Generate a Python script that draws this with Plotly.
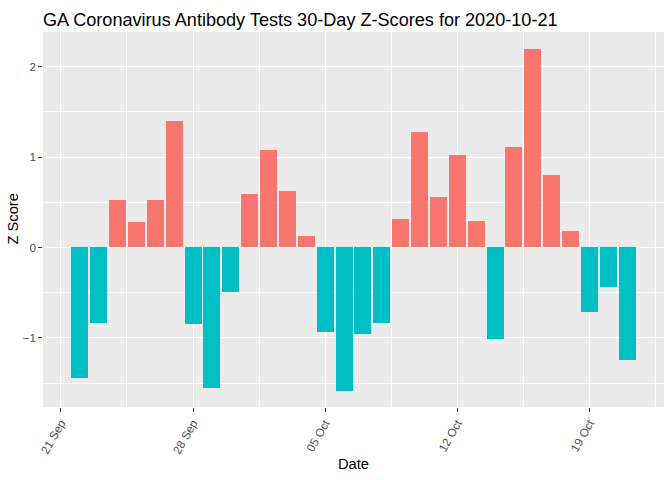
import plotly.graph_objects as go
import pandas as pd

dates = pd.date_range("2020-09-22", "2020-10-21", freq="D").strftime("%Y-%m-%d").tolist()
z_scores = [-1.44, -0.84, 0.52, 0.28, 0.53, 1.40, -0.85, -1.56, -0.49, 0.59,
            1.08, 0.63, 0.13, -0.94, -1.59, -0.96, -0.84, 0.31, 1.28, 0.56,
            1.02, 0.29, -1.01, 1.11, 2.20, 0.80, 0.18, -0.71, -0.44, -1.24]
x_tick_vals = ["2020-09-21", "2020-09-28", "2020-10-05", "2020-10-12", "2020-10-19"]
x_tick_text = ["21 Sep", "28 Sep", "05 Oct", "12 Oct", "19 Oct"]
y_tick_vals = [-1, 0, 1, 2]
title_text = "GA Coronavirus Antibody Tests 30-Day Z-Scores for 2020-10-21"

POS, NEG = "#F8766D", "#00BFC4"
colors = [POS if v > 0 else NEG for v in z_scores]
DAY = 86400000

fig = go.Figure(go.Bar(x=dates, y=z_scores, marker=dict(color=colors, line=dict(width=0)),
                       width=[0.9 * DAY] * len(dates), showlegend=False, hoverinfo="skip"))

W, H = 672, 480
ml, mr, mt, mb = 43, 8, 32, 73

fig.update_layout(
    width=W, height=H,
    margin=dict(l=ml, r=mr, t=mt, b=mb, pad=0, autoexpand=False),
    paper_bgcolor="white", plot_bgcolor="#EBEBEB",
    font=dict(family="Liberation Sans, Arial, sans-serif", color="black"),
    title=dict(text=title_text, x=43 / W, xanchor="left", xref="container",
               y=1 - 20 / H, yanchor="middle", yref="container",
               font=dict(size=18.1, color="black")),
    bargap=0,
    xaxis=dict(type="date", range=["2020-09-20 01:19", "2020-10-22 22:41"],
               tickmode="array", tickvals=x_tick_vals, ticktext=x_tick_text,
               tickangle=-60, tickfont=dict(size=11.7, color="#4D4D4D"),
               ticks="outside", ticklen=3.7, tickwidth=1.07, tickcolor="#333333",
               showgrid=True, gridcolor="white", gridwidth=1.07,
               minor=dict(tick0="2020-09-24 12:00", dtick=7 * DAY, showgrid=True,
                          gridcolor="white", gridwidth=0.53),
               zeroline=False, showline=False, automargin=False),
    yaxis=dict(range=[-1.765, 2.384], tickmode="array", tickvals=y_tick_vals,
               tickfont=dict(size=11.7, color="#4D4D4D"),
               ticks="outside", ticklen=3.7, tickwidth=1.07, tickcolor="#333333",
               showgrid=True, gridcolor="white", gridwidth=1.07,
               minor=dict(tick0=0.5, dtick=1, showgrid=True, gridcolor="white", gridwidth=0.53),
               zeroline=False, showline=False, automargin=False),
    annotations=[
        dict(text="Date", xref="paper", yref="paper", x=0.5, y=-(464 - 407) / (480 - 32 - 73),
             xanchor="center", yanchor="middle", showarrow=False,
             font=dict(size=14.7, color="black")),
        dict(text="Z Score", xref="paper", yref="paper", x=-(43 - 12) / (672 - 43 - 8), y=0.5,
             xanchor="center", yanchor="middle", showarrow=False, textangle=-90,
             font=dict(size=14.7, color="black")),
    ],
)

fig.write_html("out.html", config={"displayModeBar": False},
               post_script="document.body.style.margin='0';")
